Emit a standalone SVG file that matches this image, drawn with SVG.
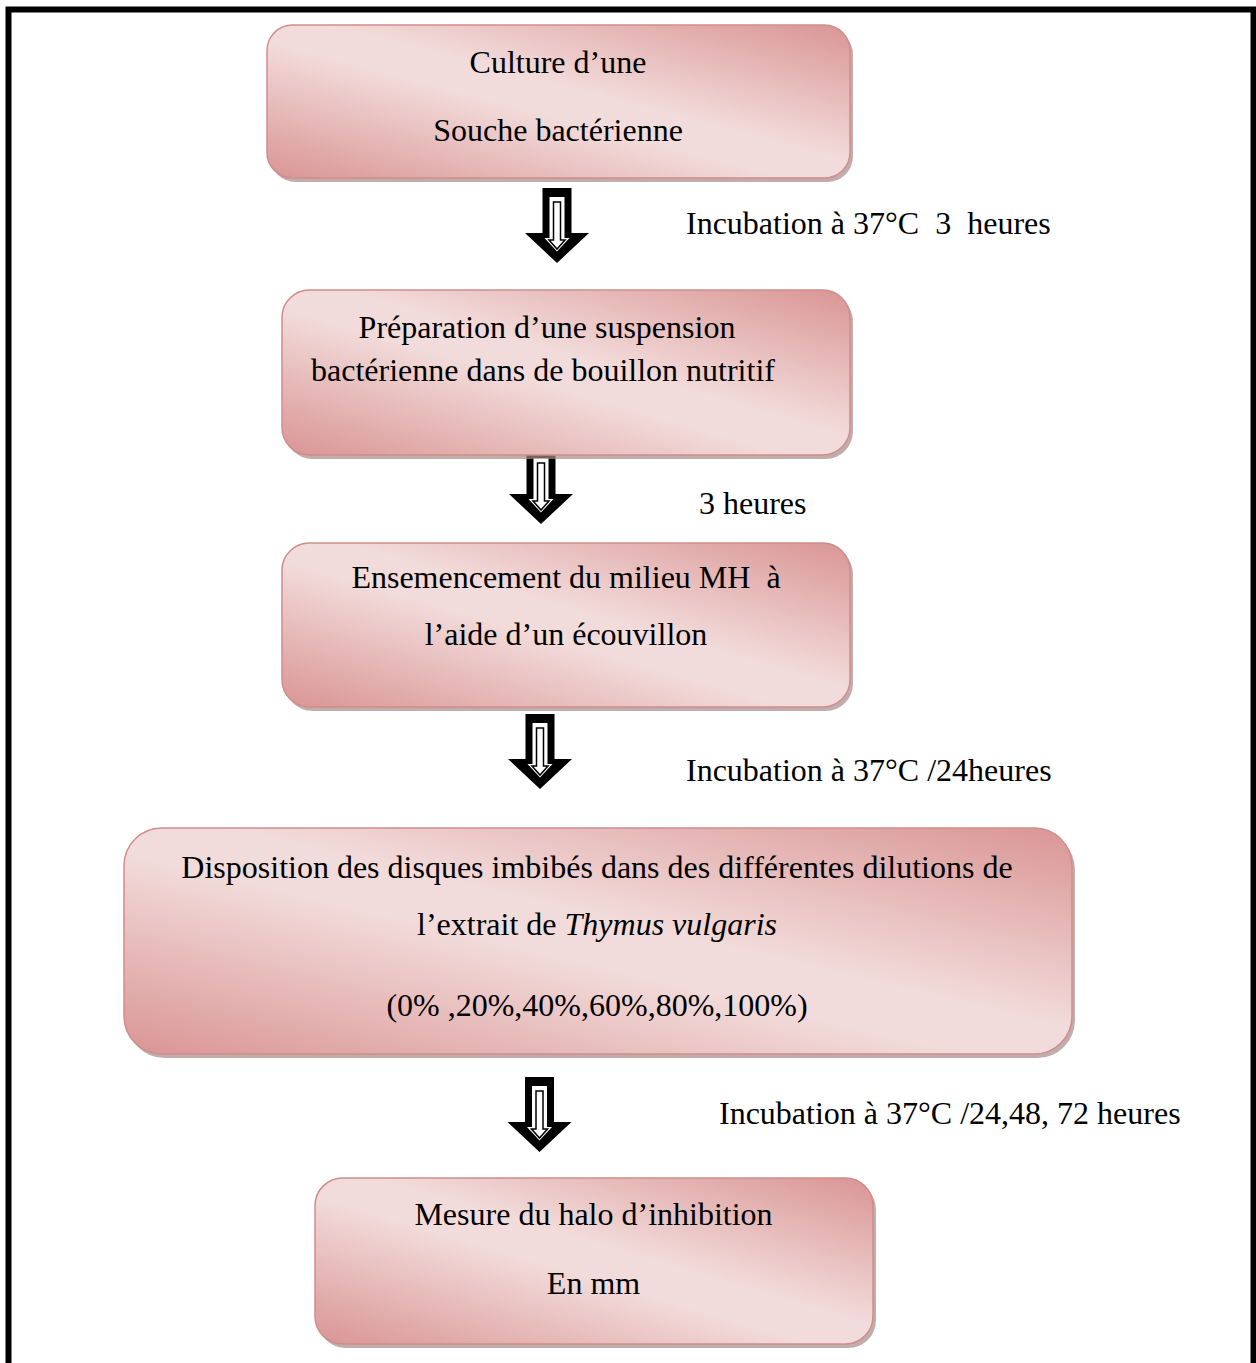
<svg xmlns="http://www.w3.org/2000/svg" width="1256" height="1363" viewBox="0 0 1256 1363">
<style>
  .box { fill: url(#pinkGrad); stroke: #d08d8c; stroke-width: 1.5; }
  .shadow { fill: #a88a8a; opacity: 0.7; }
  text { font-family: "Liberation Serif", "Times New Roman", serif; font-size: 32px; fill: #000; white-space: pre; }
  .c { text-anchor: middle; }
</style>
<defs>
  <linearGradient id="pinkGrad" x1="0" y1="1" x2="1" y2="0">
    <stop offset="0" stop-color="#d99594"/>
    <stop offset="0.45" stop-color="#f2dcdb"/>
    <stop offset="0.55" stop-color="#f2dcdb"/>
    <stop offset="1" stop-color="#d99594"/>
  </linearGradient>
  <g id="arrow">
    <polygon points="-14.5,0 14.5,0 14.5,45 32,45 0,75 -32,45 -14.5,45" fill="#000"/>
    <polygon points="-7.5,9 7.5,9 7.5,50 12.5,50 0,63.5 -12.5,50 -7.5,50" fill="#fff"/>
    <polygon points="-3.5,14 3.5,14 3.5,52 8,52 0,61 -8,52 -3.5,52" fill="#fff" stroke="#000" stroke-width="1.5"/>
  </g>
</defs>
<rect width="1256" height="1363" fill="#fff"/>
<rect x="8.5" y="9.5" width="1245" height="1400" fill="none" stroke="#000" stroke-width="6"/>

<g id="connectors">
  <use href="#arrow" transform="translate(557,188)"/>
  <use href="#arrow" transform="translate(541,449)"/>
  <use href="#arrow" transform="translate(540,714)"/>
  <use href="#arrow" transform="translate(539.5,1077)"/>
  <text x="686" y="234">Incubation à 37°C  3  heures</text>
  <text x="699" y="514">3 heures</text>
  <text x="686" y="781">Incubation à 37°C /24heures</text>
  <text x="719" y="1124">Incubation à 37°C /24,48, 72 heures</text>
</g>

<g id="node1">
  <rect class="shadow" x="270" y="29" width="583" height="153" rx="25.5"/>
  <rect class="box" x="267" y="25" width="583" height="153" rx="25.5"/>
  <text class="c" x="558" y="73">Culture d’une</text>
  <text class="c" x="558" y="141">Souche bactérienne</text>
</g>

<g id="node2">
  <rect class="shadow" x="285" y="294" width="568" height="165" rx="27.5"/>
  <rect class="box" x="282" y="290" width="568" height="165" rx="27.5"/>
  <text class="c" x="547" y="338">Préparation d’une suspension</text>
  <text class="c" x="543" y="381">bactérienne dans de bouillon nutritif</text>
</g>

<g id="node3">
  <rect class="shadow" x="285" y="547" width="568" height="164" rx="27.3"/>
  <rect class="box" x="282" y="543" width="568" height="164" rx="27.3"/>
  <text class="c" x="566" y="588">Ensemencement du milieu MH  à</text>
  <text class="c" x="566" y="645">l’aide d’un écouvillon</text>
</g>

<g id="node4">
  <rect class="shadow" x="127" y="832" width="948" height="226" rx="37.7"/>
  <rect class="box" x="124" y="828" width="948" height="226" rx="37.7"/>
  <text class="c" x="597" y="878">Disposition des disques imbibés dans des différentes dilutions de</text>
  <text class="c" x="597" y="935">l’extrait de <tspan font-style="italic">Thymus vulgaris</tspan></text>
  <text class="c" x="597" y="1016">(0% ,20%,40%,60%,80%,100%)</text>
</g>

<g id="node5">
  <rect class="shadow" x="318" y="1182" width="558" height="166" rx="27.7"/>
  <rect class="box" x="315" y="1178" width="558" height="166" rx="27.7"/>
  <text class="c" x="593.5" y="1225">Mesure du halo d’inhibition</text>
  <text class="c" x="593.5" y="1294">En mm</text>
</g>
</svg>
